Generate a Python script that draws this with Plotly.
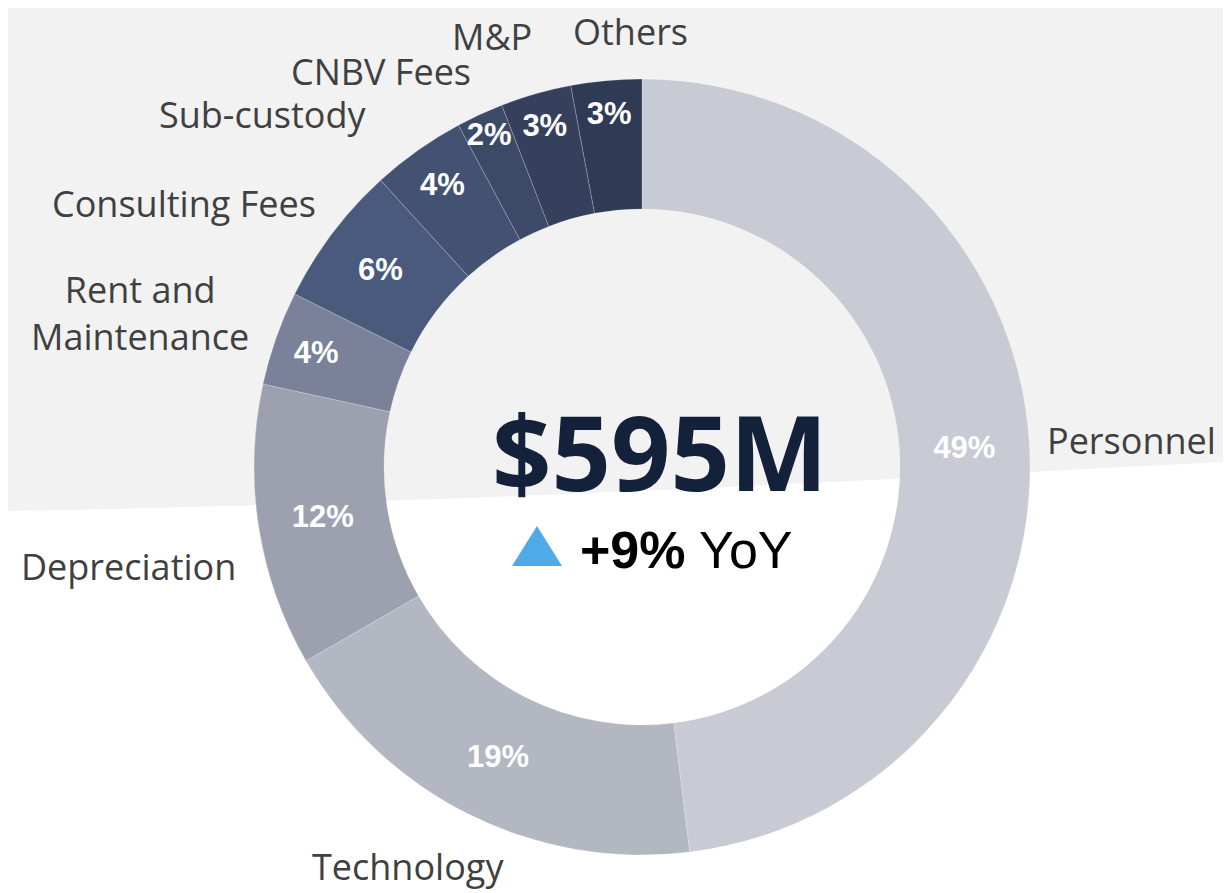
import plotly.graph_objects as go

W, H = 1231, 893
OFF = 8  # browser body margin offset

categories = ["Personnel", "Technology", "Depreciation", "Rent and Maintenance",
              "Consulting Fees", "Sub-custody", "CNBV Fees", "M&P", "Others"]
shares = [49, 19, 12, 4, 6, 4, 2, 3, 3]
share_labels = ["49%", "19%", "12%", "4%", "6%", "4%", "2%", "3%", "3%"]
colors = ["#c8cbd3", "#b3b7c2", "#9da1af", "#7a8198", "#4a5a7c",
          "#435272", "#3c4a68", "#35405d", "#2f3a55"]

total_label = "$595M"
yoy_label = "<b>+9%</b> YoY"

# outside label positions (screen pixel centers) and alignment
label_text = ["Personnel", "Technology", "Depreciation", "Rent and<br>Maintenance",
              "Consulting Fees", "Sub-custody", "CNBV Fees", "M&P", "Others"]
label_pos = [(1045, 440, "left"), (408, 866, "center"), (128, 566, "center"),
             (140, 313, "center"), (184, 203, "center"), (262, 115, "center"),
             (381, 72, "center"), (492, 37, "center"), (630, 31, "center")]


def px(x):
    return (x - OFF) / W


def py(y):
    return 1 - (y - OFF) / H


cx, cy, R = 642, 467, 388

fig = go.Figure()
fig.add_trace(go.Pie(
    labels=categories,
    values=shares,
    text=share_labels,
    textinfo="text",
    sort=False,
    direction="clockwise",
    rotation=0,
    hole=0.665,
    marker=dict(colors=colors, line=dict(color="rgba(255,255,255,0.35)", width=0.6)),
    textposition="inside",
    insidetextorientation="horizontal",
    textfont=dict(family="Liberation Sans", size=31, color="white", weight="bold"),
    domain=dict(x=[px(cx - R), px(cx + R)], y=[py(cy + R), py(cy - R)]),
    showlegend=False,
    hoverinfo="label+text",
))

annotations = []
for t, (x, y, al) in zip(label_text, label_pos):
    annotations.append(dict(
        x=px(x), y=py(y), xref="paper", yref="paper", text=t, showarrow=False,
        xanchor=al, yanchor="middle", align="center",
        font=dict(family="Open Sans", size=36, color="#404040"),
    ))

annotations.append(dict(
    x=px(660), y=py(450), xref="paper", yref="paper", text=f"<b>{total_label}</b>",
    showarrow=False, xanchor="center", yanchor="middle",
    font=dict(family="Open Sans", size=104, color="#14213a"),
))
annotations.append(dict(
    x=px(578), y=py(550), xref="paper", yref="paper", text=yoy_label,
    showarrow=False, xanchor="left", yanchor="middle",
    font=dict(family="Liberation Sans", size=52, color="#000000"),
))

shapes = [
    dict(type="path", xref="paper", yref="paper", layer="below",
         path=f"M -0.05 1.05 L 1.05 1.05 L 1.05 {py(458)} C 0.7 {py(480)}, 0.35 {py(505)}, -0.05 {py(512)} Z",
         fillcolor="#f2f2f2", line=dict(width=0)),
    dict(type="path", xref="paper", yref="paper", layer="above",
         path=f"M {px(512)} {py(566)} L {px(562)} {py(566)} L {px(537)} {py(526)} Z",
         fillcolor="#4eaae8", line=dict(width=0)),
]

fig.update_layout(
    width=W, height=H,
    margin=dict(l=0, r=0, t=0, b=0),
    paper_bgcolor="#ffffff",
    plot_bgcolor="#ffffff",
    uniformtext=dict(minsize=31, mode="show"),
    annotations=annotations,
    shapes=shapes,
)

fig.write_html("out.html")
